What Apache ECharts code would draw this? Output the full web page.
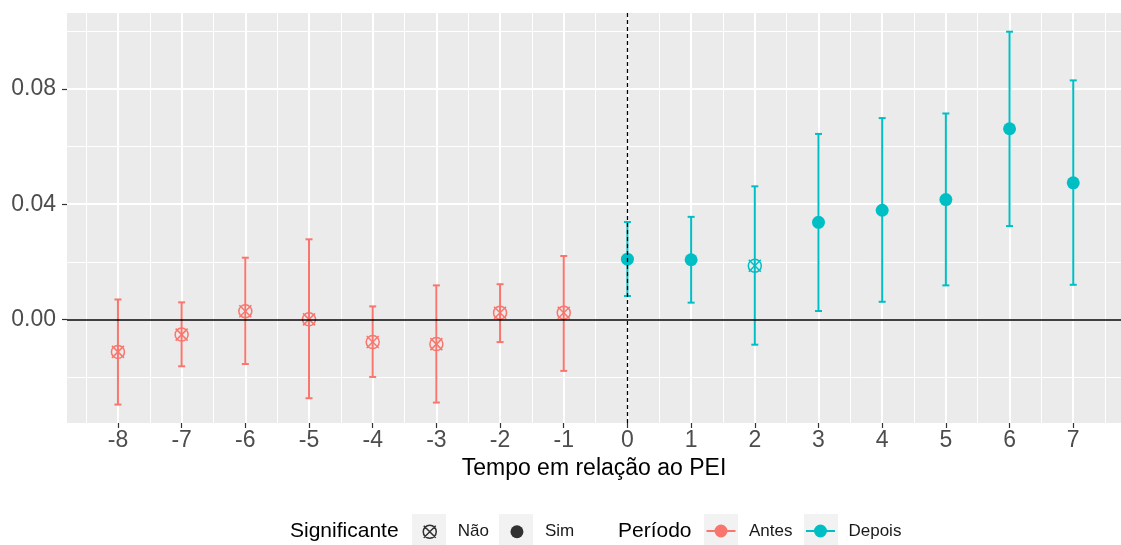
<!DOCTYPE html>
<html>
<head>
<meta charset="utf-8">
<script src="https://cdn.jsdelivr.net/npm/echarts@6/dist/echarts.min.js"></script>
<style>
  html, body { margin: 0; padding: 0; background: #fff; }
  #chart { width: 1121px; height: 545px; }
</style>
</head>
<body>
<div id="chart"></div>
<script>
// tempo relativo ao PEI
const periods = [-8, -7, -6, -5, -4, -3, -2, -1, 0, 1, 2, 3, 4, 5, 6, 7];
const estimates = [-0.0113, -0.0053, 0.0028, 0.0000, -0.0079, -0.0086, 0.0023, 0.0023,
  0.0209, 0.0207, 0.0186, 0.0337, 0.0379, 0.0416, 0.0662, 0.0474];
const lower = [-0.0296, -0.0163, -0.0155, -0.0274, -0.0200, -0.0289, -0.0079, -0.0179,
  0.0081, 0.0058, -0.0088, 0.0029, 0.0061, 0.0118, 0.0324, 0.0120];
const upper = [0.0069, 0.0059, 0.0214, 0.0278, 0.0045, 0.0118, 0.0122, 0.0220,
  0.0338, 0.0356, 0.0462, 0.0644, 0.0699, 0.0715, 0.0999, 0.0830];
const significant = [false, false, false, false, false, false, false, false,
  true, true, false, true, true, true, true, true];
const yTicks = [0, 0.04, 0.08];
const yMinor = [-0.02, 0.02, 0.06, 0.10];
const xTicks = periods;
const xMinor = [-8.5, -7.5, -6.5, -5.5, -4.5, -3.5, -2.5, -1.5, -0.5, 0.5, 1.5, 2.5, 3.5, 4.5, 5.5, 6.5, 7.5];

const RED = "#F8766D";
const CYAN = "#00BFC4";

const rows = periods.map((t, i) => [t, estimates[i], lower[i], upper[i], significant[i] ? 1 : 0]);
const antes = rows.filter((r) => r[0] < 0);
const depois = rows.filter((r) => r[0] >= 0);

// errorbar + ponto (cheio = significante, circulo com X = nao)
const renderItem = (params, api) => {
  const x = api.value(0);
  const c = api.coord([x, api.value(1)]);
  const lo = api.coord([x, api.value(2)]);
  const hi = api.coord([x, api.value(3)]);
  const color = api.visual("color");
  const bar = { stroke: color, lineWidth: 2 };
  const hw = 3.5;
  const children = [
    { type: "line", shape: { x1: lo[0], y1: lo[1], x2: hi[0], y2: hi[1] }, style: bar },
    { type: "line", shape: { x1: hi[0] - hw, y1: hi[1], x2: hi[0] + hw, y2: hi[1] }, style: bar },
    { type: "line", shape: { x1: lo[0] - hw, y1: lo[1], x2: lo[0] + hw, y2: lo[1] }, style: bar },
  ];
  if (api.value(4)) {
    children.push({ type: "circle", shape: { cx: c[0], cy: c[1], r: 6.5 }, style: { fill: color } });
  } else {
    const s = { stroke: color, lineWidth: 1.5, fill: null };
    const d = 6;
    children.push(
      { type: "circle", shape: { cx: c[0], cy: c[1], r: 6.5 }, style: s },
      { type: "line", shape: { x1: c[0] - d, y1: c[1] - d, x2: c[0] + d, y2: c[1] + d }, style: s },
      { type: "line", shape: { x1: c[0] + d, y1: c[1] - d, x2: c[0] - d, y2: c[1] + d }, style: s }
    );
  }
  return { type: "group", children };
};

// icones da legenda (caixa 34x34 + folga de 6px)
const PAD = "M0,0 M40,34 ";
const CIRCLE = "M23.5,17 A6.5,6.5 0 1,1 10.5,17 A6.5,6.5 0 1,1 23.5,17 Z ";
const iconNao = "path://" + PAD + CIRCLE + "M11,11 L23,23 M23,11 L11,23";
const iconSim = "path://" + PAD + CIRCLE;
const iconPeriodo = "path://" + PAD + "M2.5,16 L12,16 L12,18 L2.5,18 Z M22,16 L31.5,16 L31.5,18 L22,18 Z " + CIRCLE;

const legendText = { fontFamily: "Arial", fontSize: 17, color: "#1a1a1a" };

const chart = echarts.init(document.getElementById("chart"));
chart.setOption({
  animation: false,
  textStyle: { fontFamily: "Arial" },
  grid: {
    left: 67, right: 0, top: 13, bottom: 122,
    show: true, backgroundColor: "#EBEBEB", borderWidth: 0,
  },
  xAxis: [
    {
      type: "value", min: -8.8, max: 7.75,
      name: "Tempo em relação ao PEI", nameLocation: "middle", nameGap: 33,
      nameTextStyle: { fontSize: 23, color: "#000" },
      axisLine: { show: false, onZero: false },
      axisTick: { show: true, length: 5, customValues: xTicks, lineStyle: { color: "#333", width: 1.2 } },
      axisLabel: { customValues: xTicks, fontSize: 23, color: "#4D4D4D", margin: 6 },
      splitLine: { show: true, lineStyle: { color: "#fff", width: 2 } },
    },
    {
      type: "value", min: -8.8, max: 7.75, gridIndex: 0,
      axisLine: { show: false, onZero: false },
      axisTick: { show: false, customValues: xMinor },
      axisLabel: { show: false, customValues: xMinor },
      splitLine: { show: true, lineStyle: { color: "#fff", width: 1 } },
    },
  ],
  yAxis: [
    {
      type: "value", min: -0.036, max: 0.1064,
      axisLine: { show: false, onZero: false },
      axisTick: { show: true, length: 5, customValues: yTicks, lineStyle: { color: "#333", width: 1.2 } },
      axisLabel: {
        customValues: yTicks, fontSize: 23, color: "#4D4D4D", margin: 11,
        formatter: (v) => v.toFixed(2),
      },
      splitLine: { show: true, lineStyle: { color: "#fff", width: 2 } },
    },
    {
      type: "value", min: -0.036, max: 0.1064, gridIndex: 0,
      axisLine: { show: false, onZero: false },
      axisTick: { show: false, customValues: yMinor },
      axisLabel: { show: false, customValues: yMinor },
      splitLine: { show: true, lineStyle: { color: "#fff", width: 1 } },
    },
  ],
  legend: [
    {
      left: 412, top: 514, padding: 0, itemGap: 11,
      itemWidth: 40, itemHeight: 34, selectedMode: false,
      textStyle: legendText,
      data: [
        { name: "Não", icon: iconNao, itemStyle: { color: "rgba(0,0,0,0)", borderColor: "#000", borderWidth: 1.5 } },
        { name: "Sim", icon: iconSim, itemStyle: { color: "#000", borderWidth: 0 } },
      ],
    },
    {
      left: 704, top: 514, padding: 0, itemGap: 11,
      itemWidth: 40, itemHeight: 34, selectedMode: false,
      textStyle: legendText,
      data: [
        { name: "Antes", icon: iconPeriodo, itemStyle: { color: RED, borderWidth: 0 } },
        { name: "Depois", icon: iconPeriodo, itemStyle: { color: CYAN, borderWidth: 0 } },
      ],
    },
  ],
  graphic: [
    { type: "rect", z: 0, shape: { x: 412, y: 514, width: 34, height: 34 }, style: { fill: "#F2F2F2" } },
    { type: "rect", z: 0, shape: { x: 499, y: 514, width: 34, height: 34 }, style: { fill: "#F2F2F2" } },
    { type: "rect", z: 0, shape: { x: 704, y: 514, width: 34, height: 34 }, style: { fill: "#F2F2F2" } },
    { type: "rect", z: 0, shape: { x: 804, y: 514, width: 34, height: 34 }, style: { fill: "#F2F2F2" } },
    {
      type: "text", left: 290, top: 521,
      style: { text: "Significante", font: "21px Arial", fill: "#000" },
    },
    {
      type: "text", left: 618, top: 521,
      style: { text: "Período", font: "21px Arial", fill: "#000" },
    },
  ],
  series: [
    {
      name: "Antes", type: "custom", renderItem, data: antes,
      itemStyle: { color: RED }, encode: { x: 0, y: [1, 2, 3] },
    },
    {
      name: "Depois", type: "custom", renderItem, data: depois,
      itemStyle: { color: CYAN }, encode: { x: 0, y: [1, 2, 3] },
    },
    { name: "Não", type: "scatter", data: [], itemStyle: { color: "#000" } },
    { name: "Sim", type: "scatter", data: [], itemStyle: { color: "#000" } },
    {
      // linhas de referencia por cima
      type: "line", data: [], z: 5,
      markLine: {
        silent: true, symbol: "none", label: { show: false },
        data: [
          { yAxis: 0, lineStyle: { color: "#000", width: 1.5, type: "solid" } },
          { xAxis: 0, lineStyle: { color: "#000", width: 1.3, type: [4, 3] } },
        ],
      },
    },
  ],
});
</script>
</body>
</html>
